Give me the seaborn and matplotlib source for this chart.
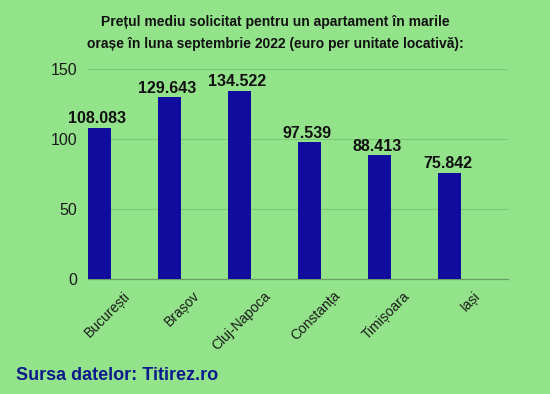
import matplotlib
matplotlib.use("Agg")
import matplotlib.pyplot as plt
import seaborn as sns
import pandas as pd
import numpy as np

cities = ["București", "Brașov", "Cluj-Napoca", "Constanța", "Timișoara", "Iași"]
values = [108.083, 129.643, 134.522, 97.539, 88.413, 75.842]
value_labels = ["108.083", "129.643", "134.522", "97.539", "88.413", "75.842"]
yticks = [0, 50, 100, 150]

bg = "#93e38a"
bar_color = "#100c9e"

sns.set_theme(style="white")
plt.rcParams["font.family"] = ["Liberation Sans", "DejaVu Sans"]

fig = plt.figure(figsize=(5.5, 3.94), dpi=100)
fig.patch.set_facecolor(bg)
ax = fig.add_axes([88/550, 1-279/394, 420/550, 210/394])
ax.set_facecolor(bg)

df = pd.DataFrame({"city": cities, "value": values})
sns.barplot(data=df, x="city", y="value", color=bar_color, saturation=1,
            width=0.33, ax=ax, zorder=3, linewidth=0, edgecolor=bar_color)

ax.set_xlim(-0.165, 5.835)
ax.set_ylim(0, 150)
ax.set_yticks(yticks)
ax.set_yticklabels([str(t) for t in yticks], fontsize=11.5, color="#1a1a1a")
ax.tick_params(axis="y", length=0, pad=8)
ax.set_xticks(np.arange(len(cities)) + 0.335)
ax.set_xticklabels(cities, rotation=45, ha="right", rotation_mode="anchor",
                   fontsize=10, color="#1a1a1a")
ax.tick_params(axis="x", length=0, pad=7)
ax.set_xlabel("")
ax.set_ylabel("")
ax.grid(axis="y", color="#7cc975", linewidth=0.8, zorder=0)
for s in ["top", "right", "left"]:
    ax.spines[s].set_visible(False)
ax.spines["bottom"].set_color("#6a9f6a")
ax.spines["bottom"].set_linewidth(0.9)

for i, (v, lab) in enumerate(zip(values, value_labels)):
    ax.text(i - 0.03, v + 1.2, lab, ha="center", va="bottom",
            fontsize=11.5, fontweight="bold", color="#111111", zorder=4)

fig.text(0.5, 1-22/394, "Prețul mediu solicitat pentru un apartament în marile",
         ha="center", va="center", fontsize=10, fontweight="bold", color="#111111")
fig.text(0.5, 1-44/394, "orașe în luna septembrie 2022 (euro per unitate locativă):",
         ha="center", va="center", fontsize=10, fontweight="bold", color="#111111")
fig.text(16/550, 1-376/394, "Sursa datelor: Titirez.ro", ha="left", va="center",
         fontsize=13, fontweight="bold", color="#0d1a8c")

fig.savefig("out.png", dpi=100, facecolor=bg)
